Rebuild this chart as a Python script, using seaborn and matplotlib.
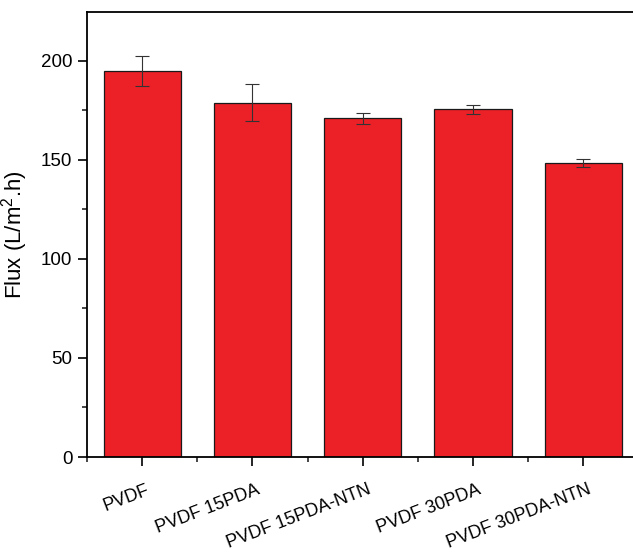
import matplotlib
matplotlib.use("Agg")
import matplotlib.pyplot as plt
import matplotlib.transforms as mtransforms
from matplotlib.ticker import MultipleLocator, FixedLocator
import seaborn as sns
import pandas as pd
import numpy as np

categories = ["PVDF", "PVDF 15PDA", "PVDF 15PDA-NTN", "PVDF 30PDA", "PVDF 30PDA-NTN"]
flux = [195.0, 179.0, 171.0, 175.5, 148.5]
flux_err = [7.5, 9.5, 2.8, 2.1, 2.1]

sns.set_theme(style="ticks")
plt.rcParams['font.family'] = ['Liberation Sans', 'DejaVu Sans']
plt.rcParams['mathtext.fontset'] = 'custom'
plt.rcParams['mathtext.rm'] = 'Liberation Sans'

df = pd.DataFrame({"sample": categories, "flux": flux})

fig = plt.figure(figsize=(6.33, 5.57), dpi=100)
ax = fig.add_axes([87/633, 1 - 457/557, 551.5/633, 445/557])

sns.barplot(data=df, x="sample", y="flux", color="#EC2027", saturation=1,
            width=0.7, edgecolor="#1a1a1a", linewidth=0.9, ax=ax, errorbar=None)
ax.errorbar(np.arange(len(categories)), flux, yerr=flux_err, fmt="none",
            ecolor="#333333", elinewidth=0.8, capsize=5, capthick=0.8, zorder=5)

ax.set_xlim(-0.5, 4.5)
ax.set_ylim(0, 224.7)
ax.yaxis.set_major_locator(MultipleLocator(50))
ax.yaxis.set_minor_locator(MultipleLocator(25))
ax.xaxis.set_minor_locator(FixedLocator([-0.5, 0.5, 1.5, 2.5, 3.5, 4.5]))

for side in ["left", "bottom", "top", "right"]:
    ax.spines[side].set_visible(True)
    ax.spines[side].set_linewidth(1.3)
    ax.spines[side].set_color("black")

ax.tick_params(axis="both", which="major", direction="out", length=6.5, width=1.2,
               labelsize=13.5, colors="black", pad=4)
ax.tick_params(axis="both", which="minor", direction="out", length=3.5, width=1.2)
ax.tick_params(axis="x", which="major", pad=11)

ax.set_xlabel("")
ax.set_ylabel("Flux (L/m$^{\\mathrm{2}}$.h)", fontsize=16, color="black")
ax.yaxis.set_label_coords(-0.104, 0.5)

offset = mtransforms.ScaledTranslation(4/100, 0, fig.dpi_scale_trans)
for lbl in ax.get_xticklabels():
    lbl.set_rotation(21)
    lbl.set_ha("right")
    lbl.set_va("top")
    lbl.set_rotation_mode("anchor")
    lbl.set_fontsize(13)
    lbl.set_transform(lbl.get_transform() + offset)

fig.savefig("out.png", dpi=100)
